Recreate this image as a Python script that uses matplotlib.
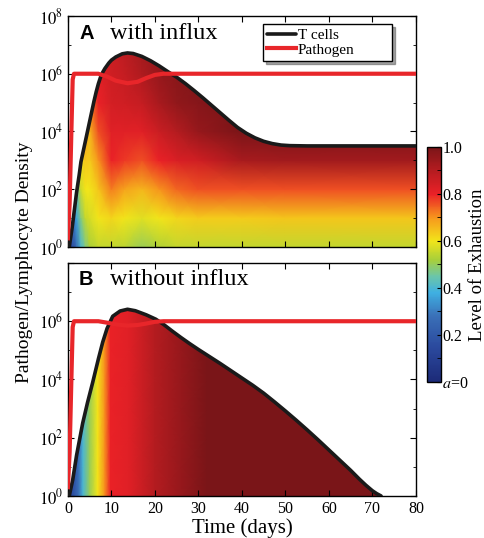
import numpy as np
import matplotlib
matplotlib.use("Agg")
import matplotlib.pyplot as plt
from matplotlib.colors import LinearSegmentedColormap
from matplotlib.patches import Polygon
from matplotlib.ticker import FixedLocator, NullFormatter

plt.rcParams['font.family'] = ['Liberation Serif', 'DejaVu Serif']
plt.rcParams['mathtext.fontset'] = 'stix'

# T cell and pathogen curves (log10 density)
T_A_TIME = [0.3, 1, 2, 2.6, 3, 4, 5, 6, 6.5, 7, 7.5, 8, 8.5, 9.4, 10, 11, 12.5, 13.7, 15, 17,
            19, 21, 23, 25, 27, 29, 31, 33, 35, 37, 39, 41, 43, 45, 47, 49, 51, 55, 80]
T_A_LOG = [0, 0.7, 1.9, 2.5, 2.95, 3.65, 4.35, 5.05, 5.37, 5.65, 5.88, 6.05, 6.18, 6.37, 6.47,
           6.58, 6.69, 6.72, 6.7, 6.6, 6.45, 6.27, 6.07, 5.88, 5.66, 5.42, 5.17, 4.91, 4.65,
           4.39, 4.14, 3.94, 3.78, 3.66, 3.58, 3.53, 3.51, 3.5, 3.5]

T_B_TIME = [0.3, 1.1, 2, 3.4, 4.5, 5.7, 7, 8, 9, 10.3, 12, 13.7, 15.5, 18, 20.2, 22, 24, 26,
            28, 30, 32.5, 35, 37.5, 40, 42.5, 45, 47.5, 50, 52.5, 55, 57.5, 60, 62.5, 65,
            67, 68.5, 70, 71, 72]
T_B_LOG = [0, 0.55, 1.4, 2.5, 3.2, 3.9, 4.7, 5.28, 5.75, 6.17, 6.35, 6.41, 6.36, 6.22, 6.07,
           5.89, 5.66, 5.44, 5.23, 5.03, 4.79, 4.55, 4.3, 4.05, 3.8, 3.53, 3.23, 2.92, 2.6,
           2.27, 1.93, 1.58, 1.23, 0.88, 0.58, 0.37, 0.18, 0.08, 0.0]

P_TIME = [0, 0.4, 0.8, 1.1, 1.4, 7, 9, 11, 13.7, 16, 18, 20, 22, 80]
P_A_LOG = [0.3, 1.5, 4.0, 5.8, 6.0, 6.0, 5.9, 5.76, 5.67, 5.72, 5.85, 5.96, 6.0, 6.0]
P_B_LOG = [0.3, 1.5, 4.0, 5.8, 6.0, 6.0, 5.95, 5.89, 5.85, 5.87, 5.92, 5.98, 6.0, 6.0]

# exhaustion level on a coarse grid (rows: log10 density 0..8, columns: days)
EXH_TIME = [0, 1, 2, 3, 4, 5, 7, 10, 13, 17, 21, 25, 30, 40, 50, 80]
EXH_LOG = [0, 1, 2, 3, 4, 5, 6, 7, 8]
EXH_A = [
    [0.05, 0.15, 0.26, 0.40, 0.47, 0.52, 0.55, 0.55, 0.54, 0.50, 0.53, 0.55, 0.55, 0.55, 0.55, 0.55],
    [0.10, 0.25, 0.36, 0.48, 0.55, 0.57, 0.60, 0.62, 0.60, 0.58, 0.60, 0.62, 0.63, 0.63, 0.64, 0.64],
    [0.15, 0.33, 0.44, 0.56, 0.60, 0.60, 0.64, 0.72, 0.68, 0.66, 0.70, 0.74, 0.76, 0.76, 0.76, 0.76],
    [0.20, 0.40, 0.50, 0.61, 0.64, 0.63, 0.70, 0.80, 0.78, 0.76, 0.80, 0.83, 0.85, 0.92, 0.93, 0.93],
    [0.25, 0.45, 0.56, 0.65, 0.68, 0.66, 0.76, 0.82, 0.82, 0.82, 0.86, 0.90, 0.95, 1.00, 1.00, 1.00],
    [0.30, 0.50, 0.60, 0.70, 0.72, 0.72, 0.80, 0.84, 0.85, 0.87, 0.92, 0.96, 0.98, 1.00, 1.00, 1.00],
    [0.35, 0.55, 0.65, 0.74, 0.76, 0.76, 0.82, 0.85, 0.87, 0.91, 0.95, 0.97, 1.00, 1.00, 1.00, 1.00],
    [0.40, 0.60, 0.70, 0.78, 0.80, 0.80, 0.84, 0.86, 0.89, 0.93, 0.96, 0.98, 1.00, 1.00, 1.00, 1.00],
    [0.45, 0.65, 0.75, 0.80, 0.82, 0.82, 0.85, 0.87, 0.90, 0.94, 0.97, 0.98, 1.00, 1.00, 1.00, 1.00],
]
EXH_B_TIME = [0, 1, 2.5, 3.5, 5, 6.8, 8.4, 9.8, 14, 20, 26, 32, 80]
EXH_B = [0.05, 0.15, 0.28, 0.40, 0.50, 0.60, 0.70, 0.80, 0.82, 0.90, 0.95, 1.0, 1.0]

cmap = LinearSegmentedColormap.from_list('exh', [
    (0.0, '#1c2a78'), (0.15, '#2b4a9e'), (0.28, '#3a70b8'), (0.38, '#3fb0e2'),
    (0.45, '#6cc6a8'), (0.52, '#a8cf3a'), (0.6, '#f2e51a'), (0.7, '#f7961d'),
    (0.8, '#ea2127'), (0.9, '#b51c20'), (1.0, '#7a1518')])

fig = plt.figure(figsize=(4.85, 5.38), dpi=100)
axA = fig.add_axes([0.140, 0.5409, 0.7175, 0.4294])
axB = fig.add_axes([0.140, 0.0781, 0.7175, 0.4331])
cax = fig.add_axes([0.880, 0.290, 0.029, 0.437])


def draw_panel(ax, t_time, t_log, p_log, exh_time, exh_grid, top_label=True):
    ax.set_yscale('log')
    ax.set_xlim(0, 80)
    ax.set_ylim(1, 1e8)
    X, Y = np.meshgrid(exh_time, 10.0 ** np.array(EXH_LOG))
    mesh = ax.pcolormesh(X, Y, np.array(exh_grid), cmap=cmap, vmin=0, vmax=1,
                         shading='gouraud', zorder=1)
    verts = [(t_time[0], 1)] + list(zip(t_time, 10.0 ** np.array(t_log))) + [(80, 1)]
    clip = Polygon(verts, closed=True, transform=ax.transData, facecolor='none', edgecolor='none')
    ax.add_patch(clip)
    mesh.set_clip_path(clip)
    lt, = ax.plot(t_time, 10.0 ** np.array(t_log), color='#1a1a1a', lw=2.6, zorder=3,
                  solid_capstyle='round', solid_joinstyle='round')
    lp, = ax.plot(P_TIME, 10.0 ** np.array(p_log), color='#e8262a', lw=3.0, zorder=4,
                  solid_joinstyle='round')
    ax.yaxis.set_major_locator(FixedLocator([1, 1e2, 1e4, 1e6, 1e8]))
    ax.yaxis.set_minor_locator(FixedLocator([1e1, 1e3, 1e5, 1e7]))
    ax.yaxis.set_minor_formatter(NullFormatter())
    ax.set_yticklabels(['$10^0$', '$10^2$', '$10^4$', '$10^6$',
                        '$10^8$' if top_label else ''])
    ax.set_xticks(range(0, 81, 10))
    ax.tick_params(which='both', direction='in', top=True, right=True, labelsize=12)
    ax.tick_params(axis='x', labelsize=11.5)
    ax.tick_params(which='major', length=4)
    ax.tick_params(which='minor', length=2.5)
    for s in ax.spines.values():
        s.set_linewidth(1.0)
    return mesh, lt, lp


mesh, lt, lp = draw_panel(axA, T_A_TIME, T_A_LOG, P_A_LOG, EXH_TIME, EXH_A)
axA.tick_params(labelbottom=False)
axA.text(0.032, 0.922, 'A', transform=axA.transAxes, fontsize=14.5, fontweight='bold',
         family='Liberation Sans', va='center')
axA.text(0.121, 0.922, 'with influx', transform=axA.transAxes, fontsize=17.5, va='center')
leg = axA.legend([lt, lp], ['T cells', 'Pathogen'], loc='upper left',
                 bbox_to_anchor=(0.56, 0.5, 0.371, 0.465), mode='expand', borderaxespad=0,
                 fontsize=11, fancybox=False, shadow=True,
                 edgecolor='black', framealpha=1, handlelength=1.9, handletextpad=0.1,
                 borderpad=0.3, labelspacing=0.05)
leg.get_frame().set_linewidth(1.0)

exh_b_grid = [EXH_B for _ in EXH_LOG]
draw_panel(axB, T_B_TIME, T_B_LOG, P_B_LOG, EXH_B_TIME, exh_b_grid, top_label=False)
axB.text(0.032, 0.927, 'B', transform=axB.transAxes, fontsize=14.5, fontweight='bold',
         family='Liberation Sans', va='center')
axB.text(0.121, 0.927, 'without influx', transform=axB.transAxes, fontsize=17.5, va='center')
axB.set_xlabel('Time (days)', fontsize=15, labelpad=1)

fig.text(0.05, 0.513, 'Pathogen/Lymphocyte Density', rotation=90, fontsize=14,
         ha='center', va='center')

cb = fig.colorbar(mesh, cax=cax)
cb.set_ticks([0, 0.2, 0.4, 0.6, 0.8, 1.0])
cb.set_ticklabels(['$a$=0', '0.2', '0.4', '0.6', '0.8', '1.0'])
cb.ax.yaxis.set_minor_locator(FixedLocator([0.1, 0.3, 0.5, 0.7, 0.9]))
cb.ax.tick_params(which='both', direction='in', length=3, labelsize=11.5, pad=1)
cb.outline.set_linewidth(1.0)
cb.set_label('Level of Exhaustion', fontsize=13.5, labelpad=0)

fig.savefig('out.png', dpi=100)
